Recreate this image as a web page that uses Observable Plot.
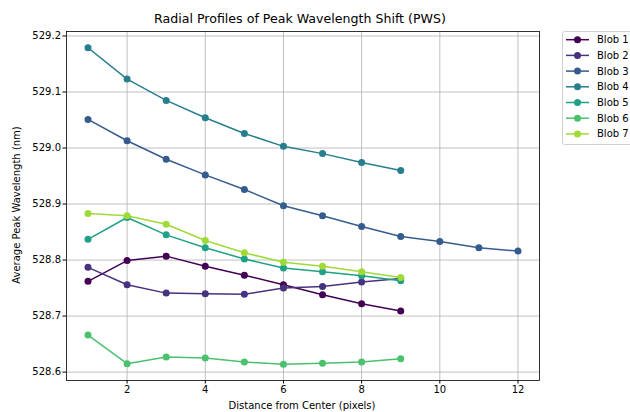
<!DOCTYPE html>
<html><head><meta charset="utf-8">
<script src="https://cdn.jsdelivr.net/npm/d3@7"></script>
<script src="https://cdn.jsdelivr.net/npm/@observablehq/plot@0.6"></script>
<style>body{margin:0;background:#fff;font-family:"DejaVu Sans",sans-serif}</style>
</head><body><div id="chart"></div>
<script>
const blobNames = ["Blob 1","Blob 2","Blob 3","Blob 4","Blob 5","Blob 6","Blob 7"];
const dist9 = [1,2,3,4,5,6,7,8,9];
const dist12 = [1,2,3,4,5,6,7,8,9,10,11,12];
const blob1 = [528.762,528.799,528.807,528.789,528.773,528.756,528.738,528.722,528.709];
const blob2 = [528.787,528.756,528.741,528.740,528.739,528.750,528.753,528.761,528.767];
const blob3 = [529.051,529.013,528.980,528.952,528.926,528.897,528.879,528.860,528.842,528.833,528.822,528.816];
const blob4 = [529.179,529.123,529.085,529.054,529.026,529.003,528.990,528.974,528.960];
const blob5 = [528.837,528.876,528.845,528.822,528.802,528.786,528.779,528.772,528.763];
const blob6 = [528.666,528.615,528.627,528.625,528.618,528.614,528.616,528.618,528.624];
const blob7 = [528.883,528.879,528.864,528.835,528.813,528.796,528.789,528.779,528.769];
const xTicks = [2,4,6,8,10,12];
const yTicks = [528.6,528.7,528.8,528.9,529.0,529.1,529.2];
const titleText = "Radial Profiles of Peak Wavelength Shift (PWS)";
const xLabel = "Distance from Center (pixels)";
const yLabel = "Average Peak Wavelength (nm)";

const series = [blob1,blob2,blob3,blob4,blob5,blob6,blob7];
const rows = [];
series.forEach((vals,i)=>{
  const xs = vals.length === 12 ? dist12 : dist9;
  vals.forEach((v,j)=>rows.push({blob:blobNames[i], x:xs[j], y:v}));
});
const colors = blobNames.map((_,i)=>d3.interpolateViridis(i/7));

const plot = Plot.plot({
  width: 630, height: 412,
  marginLeft: 66, marginRight: 91, marginTop: 31, marginBottom: 32,
  style: {fontFamily: "DejaVu Sans, sans-serif", fontSize: "10px", background: "#fff"},
  x: {domain: [0.45, 12.55]},
  y: {domain: [528.585, 529.208]},
  color: {domain: blobNames, range: colors},
  marks: [
    Plot.gridX(xTicks, {stroke: "#b0b0b0", strokeOpacity: 1, strokeWidth: 0.8}),
    Plot.gridY(yTicks, {stroke: "#b0b0b0", strokeOpacity: 1, strokeWidth: 0.8}),
    Plot.line(rows, {x: "x", y: "y", z: "blob", stroke: "blob", strokeWidth: 1.5}),
    Plot.dot(rows, {x: "x", y: "y", fill: "blob", r: 3.5}),
    Plot.frame({stroke: "#000", strokeWidth: 0.8}),
    Plot.axisX(xTicks, {tickSize: 3.5, tickPadding: 2, fontSize: 10, label: null, fill: "#000"}),
    Plot.axisY(yTicks, {tickSize: 3.5, tickPadding: 2, fontSize: 10, label: null, tickFormat: d3.format(".1f"), fill: "#000"})
  ]
});
document.getElementById("chart").appendChild(plot);

const svg = d3.select(plot);
svg.append("text").attr("x", 300).attr("y", 23).attr("text-anchor","middle")
  .attr("font-size", 12.6).attr("fill","#000").text(titleText);
svg.append("text").attr("x", 302).attr("y", 409).attr("text-anchor","middle")
  .attr("font-size", 10).attr("fill","#000").text(xLabel);
svg.append("text").attr("transform","translate(20,205) rotate(-90)").attr("text-anchor","middle")
  .attr("font-size", 10).attr("fill","#000").text(yLabel);

const lg = svg.append("g");
lg.append("rect").attr("x", 562.5).attr("y", 31.5).attr("width", 80).attr("height", 113).attr("rx", 2)
  .attr("fill","#fff").attr("stroke","#d0d0d0");
blobNames.forEach((n,i)=>{
  const yy = 39.7 + i*15.7;
  lg.append("line").attr("x1",566).attr("x2",589).attr("y1",yy).attr("y2",yy)
    .attr("stroke", colors[i]).attr("stroke-width",1.5);
  lg.append("circle").attr("cx",577.5).attr("cy",yy).attr("r",3.5).attr("fill",colors[i]);
  lg.append("text").attr("x",597).attr("y",yy).attr("dy","0.35em").attr("font-size",10)
    .attr("text-anchor","start").attr("fill","#000").text(n);
});
</script></body></html>
